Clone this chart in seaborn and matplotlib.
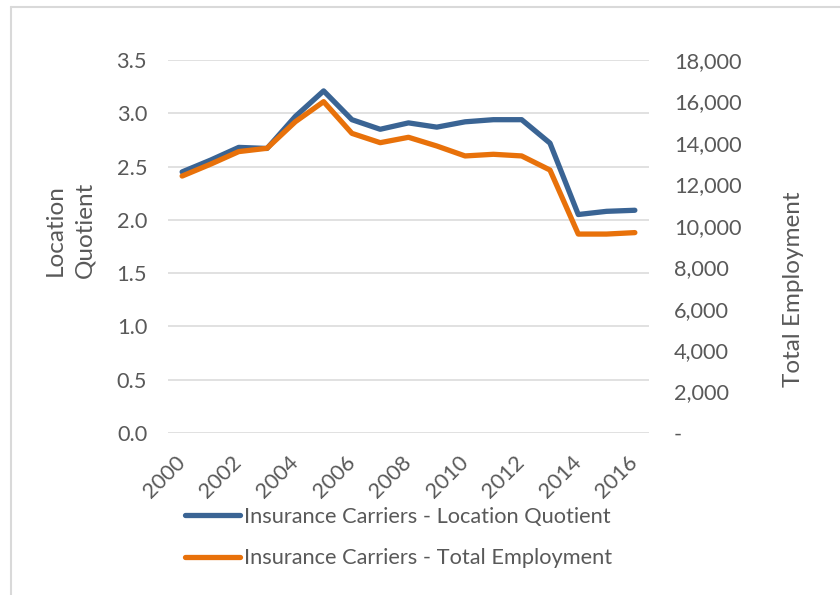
import matplotlib
matplotlib.use("Agg")
import matplotlib.pyplot as plt
from matplotlib.lines import Line2D
import seaborn as sns
import pandas as pd

# Insurance carriers, 2000-2016
years = list(range(2000, 2017))
location_quotient = [2.45, 2.56, 2.68, 2.67, 2.97, 3.21, 2.94, 2.85, 2.91, 2.87,
                     2.92, 2.94, 2.94, 2.72, 2.05, 2.08, 2.09]
total_employment = [12400, 12970, 13580, 13740, 15020, 15990, 14460, 14010, 14270, 13850,
                    13370, 13450, 13370, 12690, 9600, 9600, 9670]

lq_ticks = [0.0, 0.5, 1.0, 1.5, 2.0, 2.5, 3.0, 3.5]
emp_ticks = list(range(0, 18001, 2000))
year_ticks = list(range(2000, 2017, 2))

lq_label = "Insurance Carriers - Location Quotient"
emp_label = "Insurance Carriers - Total Employment"

df = pd.DataFrame({"year": years, "lq": location_quotient, "emp": total_employment})

sns.set_theme(style="white")
plt.rcParams["font.family"] = ["Lato", "DejaVu Sans"]
text_color = "#595959"
blue = "#3A6494"
orange = "#E8710A"
grid_color = "#D9D9D9"
fs = 15.7
title_fs = 17.5

fig = plt.figure(figsize=(8.4, 5.95), dpi=100)
fig.patch.set_facecolor("white")

W, H = 840, 595
left, right, top, bottom = 168, 649, 60, 433
ax = fig.add_axes([left / W, 1 - bottom / H, (right - left) / W, (bottom - top) / H])
ax2 = ax.twinx()

line_kw = dict(linewidth=3.8, solid_capstyle="round", solid_joinstyle="round")
sns.lineplot(data=df, x="year", y="lq", ax=ax, color=blue, **line_kw)
sns.lineplot(data=df, x="year", y="emp", ax=ax2, color=orange, **line_kw)

ax.set_xlim(1999.5, 2016.5)
ax.set_ylim(0, 3.5)
ax.set_yticks(lq_ticks)
ax.set_yticklabels([f"{v:.1f}" for v in lq_ticks])
ax.grid(axis="y", color=grid_color, linewidth=1.1)
ax.grid(axis="x", visible=False)
ax.set_axisbelow(True)

ax2.set_ylim(0, 18000)
ax2.set_yticks(emp_ticks)
ax2.set_yticklabels(["-" if v == 0 else f"{v:,}" for v in emp_ticks])
ax2.grid(False)

ax.set_xticks(year_ticks)
ax.set_xticklabels([str(y) for y in year_ticks], rotation=45, ha="right",
                   va="center", rotation_mode="anchor")

for a in (ax, ax2):
    for s in a.spines.values():
        s.set_visible(False)
    a.tick_params(length=0, labelsize=fs, labelcolor=text_color)
ax.tick_params(axis="y", pad=15)
ax.tick_params(axis="x", pad=19)
ax2.tick_params(axis="y", pad=18)
for lbl in ax2.get_yticklabels():
    lbl.set_horizontalalignment("left")

ax.set_xlabel("")
ax.set_ylabel("Location\nQuotient", fontsize=title_fs, color=text_color, linespacing=1.5)
ax.yaxis.set_label_coords(-0.152, 0.544)
ax2.set_ylabel("Total Employment", fontsize=title_fs, color=text_color)
ax2.yaxis.set_label_coords(1.279, 0.386)

handles = [Line2D([], [], color=blue, **line_kw), Line2D([], [], color=orange, **line_kw)]
fig.legend(handles, [lq_label, emp_label], loc="center left",
           bbox_to_anchor=(176 / W, 1 - 537.5 / H), frameon=False, fontsize=fs,
           labelcolor=text_color, handlelength=2.52, handletextpad=0.19,
           labelspacing=1.0, borderaxespad=0)

# Outer chart frame (top and left edges)
fig.add_artist(Line2D([11 / W, 1], [1 - 7 / H, 1 - 7 / H], color=grid_color, linewidth=1.5))
fig.add_artist(Line2D([11 / W, 11 / W], [0, 1 - 7 / H], color=grid_color, linewidth=1.5))

fig.savefig("out.png", dpi=100, facecolor="white")
